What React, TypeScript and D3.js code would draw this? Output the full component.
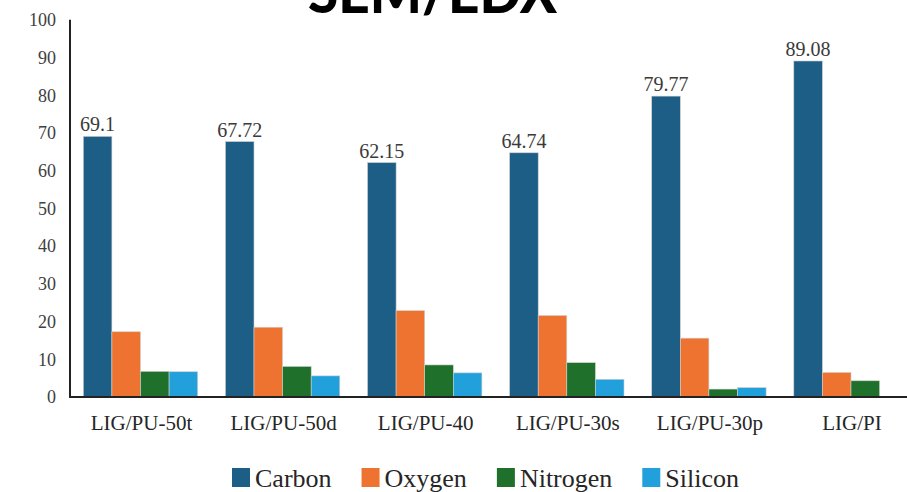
import React, { useEffect, useRef } from "react";
import * as d3 from "d3";

const categories = ["LIG/PU-50t", "LIG/PU-50d", "LIG/PU-40", "LIG/PU-30s", "LIG/PU-30p", "LIG/PI"];
const seriesNames = ["Carbon", "Oxygen", "Nitrogen", "Silicon"];
const carbon = [69.1, 67.72, 62.15, 64.74, 79.77, 89.08];
const oxygen = [17.3, 18.5, 22.9, 21.6, 15.6, 6.5];
const nitrogen = [6.8, 8.1, 8.5, 9.1, 2.1, 4.3];
const silicon = [6.7, 5.6, 6.4, 4.7, 2.5, 0];
const yTicks = [0, 10, 20, 30, 40, 50, 60, 70, 80, 90, 100];
const colors = ["#1C5E86", "#EE7331", "#1E702A", "#22A0DB"];
const title = "SEM/EDX";

const W = 907;
const H = 492;
const SERIF = "'Liberation Serif', 'Times New Roman', serif";

export default function App() {
  const ref = useRef<SVGSVGElement>(null);

  useEffect(() => {
    const svg = d3.select(ref.current);
    svg.selectAll("*").remove();
    const series = [carbon, oxygen, nitrogen, silicon];

    const y = d3.scaleLinear().domain([0, 100]).range([397, 19.8]);
    const x0 = d3
      .scaleBand<string>()
      .domain(categories)
      .range([70, 921.5])
      .paddingInner(0.195)
      .paddingOuter(0.0936);
    const x1 = d3
      .scaleBand<string>()
      .domain(seriesNames)
      .range([0, x0.bandwidth()])
      .padding(0);

    // title (cut off at the top edge, as in the reference)
    svg
      .append("text")
      .attr("x", 308)
      .attr("y", 13)
      .attr("textLength", 249)
      .attr("lengthAdjust", "spacingAndGlyphs")
      .style("font-family", "Lato")
      .style("font-weight", "900")
      .style("font-size", "58px")
      .attr("fill", "#000")
      .text(title);

    // bars
    const g = svg.append("g");
    categories.forEach((cat, i) => {
      seriesNames.forEach((s, j) => {
        const v = series[j][i];
        if (v <= 0) return;
        g.append("rect")
          .attr("x", (x0(cat) as number) + (x1(s) as number))
          .attr("y", y(v))
          .attr("width", x1.bandwidth())
          .attr("height", y(0) - y(v))
          .attr("fill", colors[j])
          .attr("stroke", "#d0d0d0")
          .attr("stroke-width", 0.6);
      });
      g.append("text")
        .attr("x", (x0(cat) as number) + (x1("Carbon") as number) + x1.bandwidth() / 2)
        .attr("y", y(carbon[i]) - 5)
        .attr("text-anchor", "middle")
        .style("font-family", SERIF)
        .style("font-size", "20px")
        .attr("fill", "#3a3a3a")
        .text(String(carbon[i]));
    });

    // y axis
    svg
      .append("line")
      .attr("x1", 70)
      .attr("x2", 70)
      .attr("y1", y(100))
      .attr("y2", y(0) + 1)
      .attr("stroke", "#222")
      .attr("stroke-width", 2);
    svg
      .append("g")
      .selectAll("text")
      .data(yTicks)
      .join("text")
      .attr("x", 56)
      .attr("y", (d) => y(d))
      .attr("dy", "0.35em")
      .attr("text-anchor", "end")
      .style("font-family", SERIF)
      .style("font-size", "18px")
      .attr("fill", "#404040")
      .text((d) => String(d));

    // x axis
    svg
      .append("line")
      .attr("x1", 69)
      .attr("x2", W)
      .attr("y1", y(0))
      .attr("y2", y(0))
      .attr("stroke", "#222")
      .attr("stroke-width", 2);
    svg
      .append("g")
      .selectAll("text")
      .data(categories)
      .join("text")
      .attr("x", (d) => (x0(d) as number) + x0.bandwidth() / 2 + 1)
      .attr("y", 430)
      .attr("text-anchor", "middle")
      .style("font-family", SERIF)
      .style("font-size", "21px")
      .attr("fill", "#262626")
      .text((d) => d);

    // legend
    const lg = svg.append("g");
    let lx = 232;
    seriesNames.forEach((s, j) => {
      lg.append("rect")
        .attr("x", lx)
        .attr("y", 468)
        .attr("width", 18)
        .attr("height", 19)
        .attr("fill", colors[j]);
      const t = lg
        .append("text")
        .attr("x", lx + 23)
        .attr("y", 487)
        .style("font-family", SERIF)
        .style("font-size", "26px")
        .attr("fill", "#262626")
        .text(s);
      const w = (t.node() as SVGTextElement).getComputedTextLength();
      lx = lx + 23 + w + 30;
    });
  }, []);

  return (
    <svg
      ref={ref}
      width={W}
      height={H}
      style={{ position: "absolute", left: 0, top: 0, background: "#fff" }}
    />
  );
}
